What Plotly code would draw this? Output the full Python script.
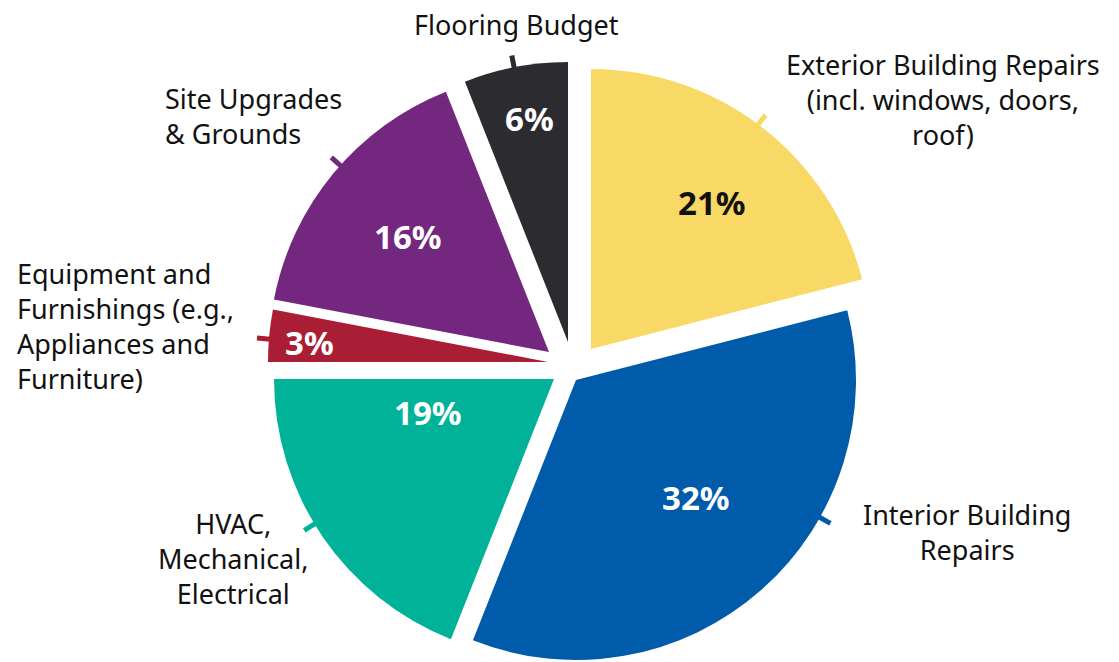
import math
import plotly.graph_objects as go

# ---- data ----
categories = [
    "Exterior Building Repairs",
    "Interior Building Repairs",
    "HVAC, Mechanical, Electrical",
    "Equipment and Furnishings",
    "Site Upgrades & Grounds",
    "Flooring Budget",
]
# slice sizes as drawn (share of the full circle, %)
drawn_share = [21, 35, 19, 3, 16, 6]
# percentages printed on the slices
percent_shown = [21, 32, 19, 3, 16, 6]
outer_labels = [
    "Exterior Building Repairs<br>(incl. windows, doors,<br>roof)",
    "Interior Building<br>Repairs",
    "HVAC,<br>Mechanical,<br>Electrical",
    "Equipment and<br>Furnishings (e.g.,<br>Appliances and<br>Furniture)",
    "Site Upgrades<br>& Grounds",
    "Flooring Budget",
]

# ---- style / layout ----
colors = ["#F8D966", "#005BAA", "#00B398", "#A91E35", "#74277E", "#2C2B30"]
pct_colors = ["#111111", "white", "white", "white", "white", "white"]
W, H = 1119, 662
R = 280.0                 # slice radius in px
CX, CY = 570.0, 362.0     # nominal pie centre in px
# exploded offset of every slice from the nominal centre (px)
explode = [(21, -13), (6, 18), (-16, 17), (-22, 0), (-21, -10), (-2, -20)]
# inside-percentage placement (radius fraction, angle nudge in degrees)
pct_rf = [0.68, 0.60, 0.466, 0.853, 0.65, 0.81]
pct_nudge = [1.7, -4.3, 19.1, -0.6, -0.4, 1.1]
tick_nudge = [-1.1, -19.2, 3.0, -0.7, 2.2, -0.3]
# outer label placement: x (px), block-centre y (px), anchor
lab_x = [943, 967, 233, 15, 163, 516]
lab_y = [99, 532, 558, 326, 116, 24]
lab_anchor = ["center", "center", "center", "left", "left", "center"]
FONT = "Noto Sans"

def px2paper(x, y):
    return x / W, 1 - y / H

fig = go.Figure()
total = sum(drawn_share)
start = 0.0
shapes = []
annotations = []
for i, v in enumerate(drawn_share):
    span = v / total * 360
    mid = start + span / 2
    start += span
    ax, ay = CX + explode[i][0], CY + explode[i][1]
    # one pie trace per slice so each slice can be exploded on its own
    slice_colors = ["rgba(0,0,0,0)"] * len(drawn_share)
    slice_colors[i] = colors[i]
    fig.add_trace(go.Pie(
        labels=categories,
        values=drawn_share,
        sort=False,
        direction="clockwise",
        rotation=0,
        textinfo="none",
        hoverinfo="label+value",
        marker=dict(colors=slice_colors, line=dict(width=0)),
        domain=dict(x=[(ax - R) / W, (ax + R) / W],
                    y=[1 - (ay + R) / H, 1 - (ay - R) / H]),
        showlegend=False,
    ))
    # tick
    t = math.radians(mid + tick_nudge[i])
    x0, y0 = px2paper(ax + (R - 4) * math.sin(t), ay - (R - 4) * math.cos(t))
    x1, y1 = px2paper(ax + (R + 12) * math.sin(t), ay - (R + 12) * math.cos(t))
    shapes.append(dict(type="line", xref="paper", yref="paper",
                       x0=x0, y0=y0, x1=x1, y1=y1,
                       line=dict(color=colors[i], width=5)))
    # percentage text
    p = math.radians(mid + pct_nudge[i])
    rr = pct_rf[i] * R
    px, py = px2paper(ax + rr * math.sin(p), ay - rr * math.cos(p))
    annotations.append(dict(x=px, y=py, xref="paper", yref="paper",
                            text=f"{percent_shown[i]}%", showarrow=False,
                            xanchor="center", yanchor="middle",
                            font=dict(family=FONT, size=33, color=pct_colors[i],
                                      weight="bold")))
    # outer label
    lx, ly = px2paper(lab_x[i], lab_y[i])
    annotations.append(dict(x=lx, y=ly, xref="paper", yref="paper",
                            text=outer_labels[i], showarrow=False,
                            xanchor=lab_anchor[i], yanchor="middle",
                            align=lab_anchor[i],
                            font=dict(family=FONT, size=27, color="#111111")))

fig.update_layout(
    width=W, height=H,
    margin=dict(l=0, r=0, t=0, b=0),
    paper_bgcolor="white",
    plot_bgcolor="white",
    shapes=shapes,
    annotations=annotations,
)

fig.write_html("out.html")
